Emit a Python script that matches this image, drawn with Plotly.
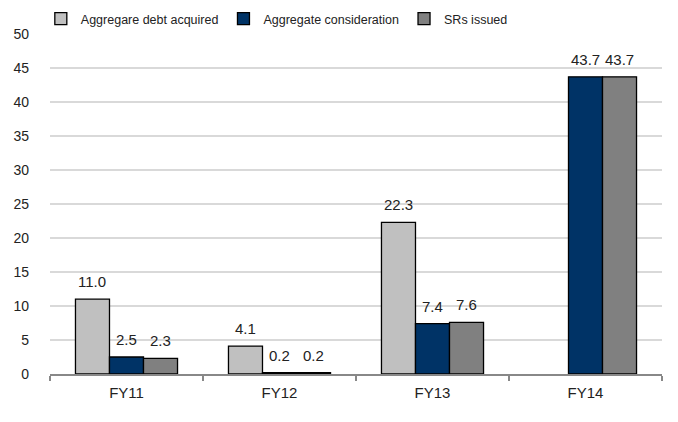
import plotly.graph_objects as go

categories = ["FY11", "FY12", "FY13", "FY14"]
debt_acquired = [11.0, 4.1, 22.3, None]
consideration = [2.5, 0.2, 7.4, 43.7]
srs_issued = [2.3, 0.2, 7.6, 43.7]
series_names = ["Aggregare debt acquired", "Aggregate consideration", "SRs issued"]
colors = ["#C0C0C0", "#003366", "#808080"]

W, H = 678, 422
ML, MR, MT, MB = 50, 16, 34, 48
BARGAP = 0.333
cat_px = (W - ML - MR) / len(categories)
bar_px = cat_px * (1 - BARGAP) / 3

fig = go.Figure()
all_series = [debt_acquired, consideration, srs_issued]
for name, vals, col in zip(series_names, all_series, colors):
    fig.add_trace(go.Bar(
        x=categories, y=vals, name=name,
        marker=dict(color=col, line=dict(color="#000000", width=1.3)),
    ))

# data labels above bars
for si, vals in enumerate(all_series):
    for cat, v in zip(categories, vals):
        if v is None:
            continue
        fig.add_annotation(
            x=cat, y=v, xref="x", yref="y", text=f"{v:.1f}",
            showarrow=False, yanchor="bottom", yshift=7,
            xshift=(si - 1) * bar_px,
            font=dict(size=15, color="#222222"),
        )

fig.update_layout(
    width=W, height=H,
    margin=dict(l=ML, r=MR, t=MT, b=MB, autoexpand=False),
    paper_bgcolor="white", plot_bgcolor="white",
    font=dict(family="Liberation Sans, Arial, sans-serif", size=15, color="#222222"),
    barmode="group", bargap=BARGAP, bargroupgap=0,
    showlegend=True,
    legend=dict(orientation="h", x=-0.015, xanchor="left", y=1.0, yanchor="bottom",
                font=dict(size=12.5), itemwidth=30, tracegroupgap=0),
)
fig.update_yaxes(range=[0, 50], dtick=5, showgrid=True, gridcolor="#D9D9D9", gridwidth=1.5,
                 zeroline=False, showline=False, ticks="", tickfont=dict(size=14),
                 ticklabelstandoff=20)
fig.update_xaxes(showline=True, linecolor="#888888", linewidth=1.5, ticks="outside",
                 tickson="boundaries", ticklen=5, tickcolor="#888888", tickwidth=1.5,
                 tickfont=dict(size=15), ticklabelstandoff=4)

fig.write_html("out.html", config={"displayModeBar": False},
               post_script="document.body.style.margin='0';")
